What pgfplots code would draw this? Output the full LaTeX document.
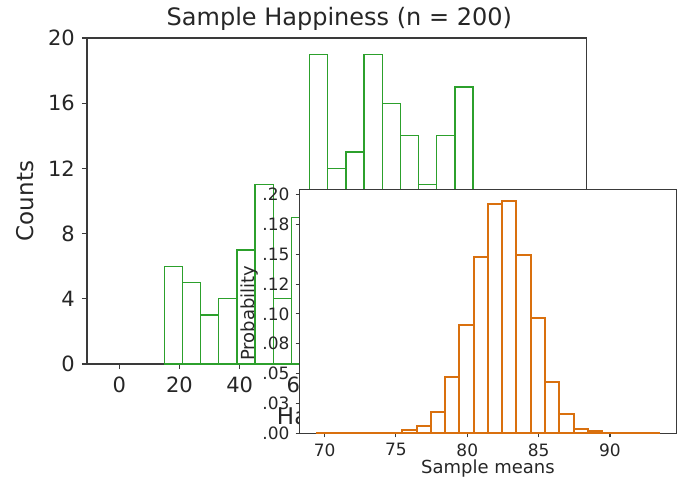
\documentclass[border=0pt]{standalone}
\usepackage{fontspec}
\setmainfont{DejaVu Sans}
\usepackage{pgfplots}
\pgfplotsset{compat=1.18}

\definecolor{histgreen}{HTML}{2CA02C}
\definecolor{historange}{HTML}{D9700E}
\definecolor{spine}{HTML}{3A3A3A}

\begin{document}
\begin{tikzpicture}
\path[use as bounding box] (-87bp,-114bp) rectangle (590bp,364bp);

% main histogram
\begin{axis}[
    at={(0,0)}, anchor=south west, scale only axis,
    width=499.6bp, height=326bp,
    xmin=-10.7, xmax=155.2, ymin=0, ymax=20,
    xtick={0,20,...,140}, ytick={0,4,...,20},
    tick align=outside, tick pos=left, major tick length=5bp,
    axis line style={spine, line width=1.1bp},
    tick style={spine, line width=1.1bp},
    /pgf/number format/assume math mode=true,
    ticklabel style={font=\fontsize{21bp}{25bp}\selectfont, text=black!85, inner sep=0pt},
    xticklabel style={yshift=-8bp},
    yticklabel style={xshift=-7bp},
    title={Sample Happiness (n = 200)},
    title style={at={(axis description cs:0.505,1.02)}, anchor=base, inner sep=0pt,
        font=\fontsize{24bp}{28bp}\selectfont, text=black!85},
    xlabel={Happiness},
    xlabel style={at={(axis description cs:0.5,-0.187)}, anchor=base, inner sep=0pt,
        font=\fontsize{23bp}{27bp}\selectfont, text=black!85},
    ylabel={Counts},
    ylabel style={at={(axis description cs:-0.108,0.5)}, anchor=base, rotate=0, inner sep=0pt,
        font=\fontsize{23bp}{27bp}\selectfont, text=black!85},
]
\addplot[ybar interval, draw=histgreen, line width=1.3bp, fill=none] coordinates {
    (14.94,6) (20.97,5) (27.00,3) (33.04,4) (39.07,7) (45.10,11) (51.14,4)
    (57.17,9) (63.20,19) (69.24,12) (75.27,13) (81.30,19) (87.34,16)
    (93.37,14) (99.40,11) (105.44,14) (111.47,17) (117.50,17)
};
\end{axis}

% inset: distribution of sample means
\begin{axis}[
    at={(212.6bp,-69.3bp)}, anchor=south west, scale only axis,
    width=376.7bp, height=244bp,
    axis background/.style={fill=white},
    xmin=68.25, xmax=94.65, ymin=0, ymax=0.2044,
    xtick={70,75,...,90},
    ytick={0,0.025,0.05,0.075,0.1,0.125,0.15,0.175,0.2},
    yticklabels={.00,.03,.05,.08,.10,.12,.15,.18,.20},
    tick align=outside, tick pos=left, major tick length=4bp,
    axis line style={spine, line width=1.1bp},
    tick style={spine, line width=1.1bp},
    /pgf/number format/assume math mode=true,
    ticklabel style={font=\fontsize{17bp}{20bp}\selectfont, text=black!85, inner sep=0pt},
    xticklabel style={yshift=-6bp},
    yticklabel style={xshift=-6bp},
    xlabel={Sample means},
    xlabel style={at={(axis description cs:0.5,-0.165)}, anchor=base, inner sep=0pt,
        font=\fontsize{18bp}{21bp}\selectfont, text=black!85},
    ylabel={Probability},
    ylabel style={at={(axis description cs:-0.120,0.492)}, anchor=base, rotate=0, inner sep=0pt,
        font=\fontsize{18bp}{21bp}\selectfont, text=black!85},
]
\addplot[ybar interval, draw=historange, line width=2bp, fill=none] coordinates {
    (69.45,0.0001) (70.45,0) (71.45,0) (72.45,0) (73.45,0) (74.45,0.0004)
    (75.45,0.0025) (76.45,0.0061) (77.45,0.0176) (78.45,0.0474) (79.45,0.0906)
    (80.45,0.1478) (81.45,0.1919) (82.45,0.1947) (83.45,0.1497) (84.45,0.0962)
    (85.45,0.0427) (86.45,0.0163) (87.45,0.0039) (88.45,0.0017) (89.45,0.0004)
    (90.45,0) (91.45,0) (92.45,0.0001) (93.45,0.0001)
};
\end{axis}
\end{tikzpicture}
\end{document}
